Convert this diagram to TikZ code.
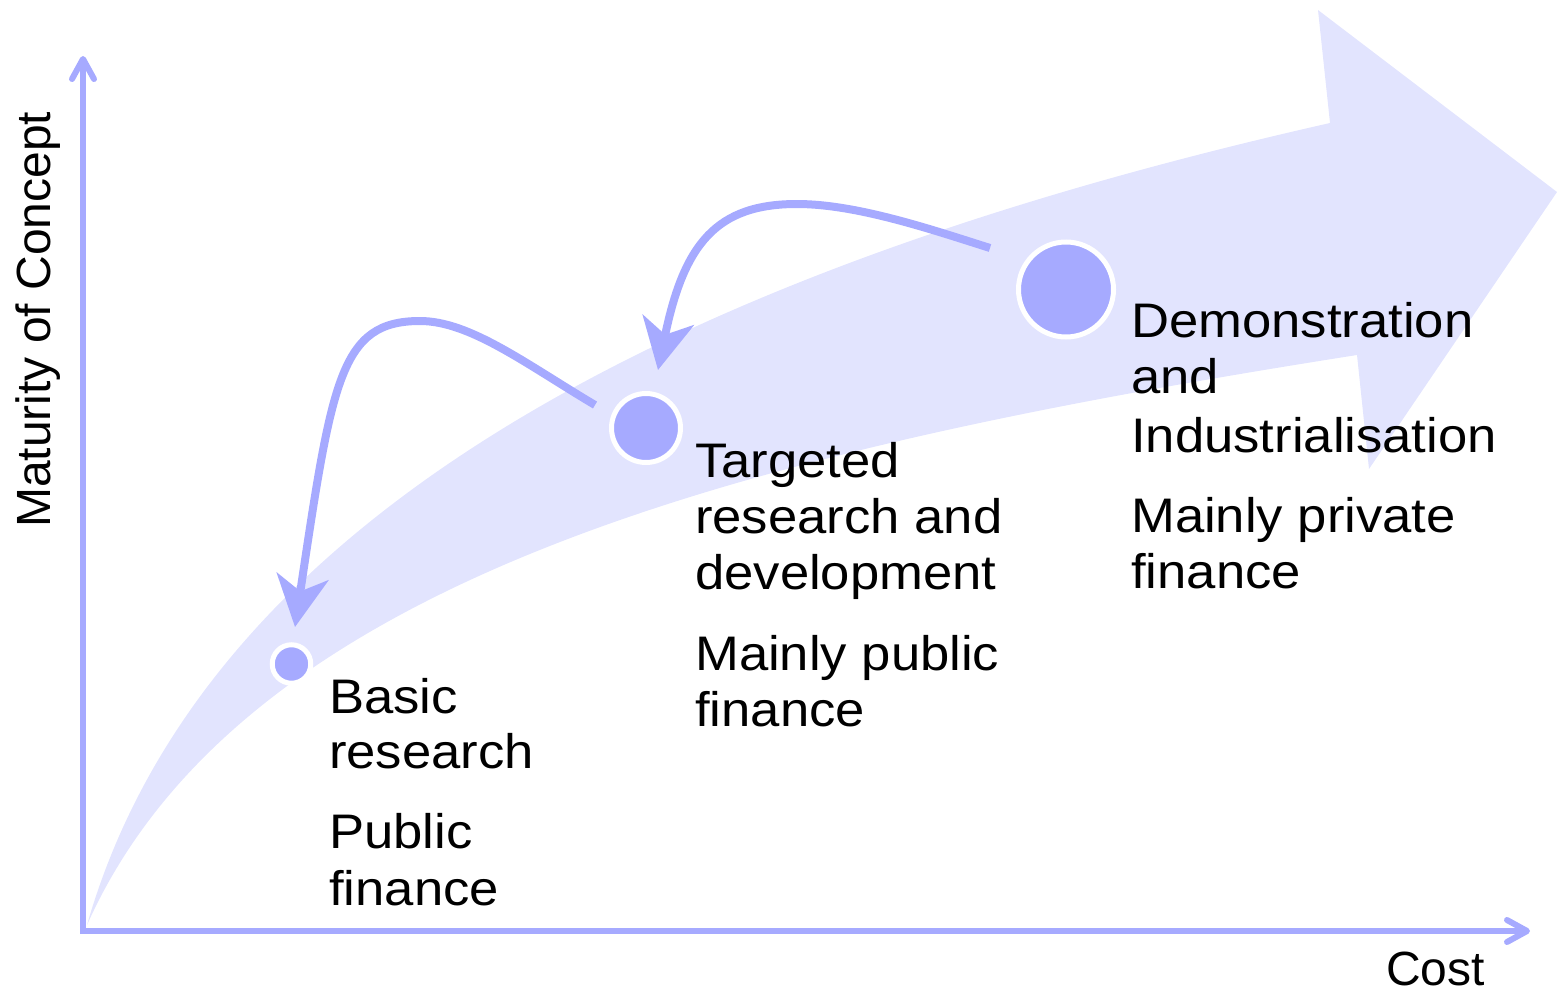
\documentclass[tikz,border=0pt]{standalone}
\usepackage{fontspec}
\setmainfont{Liberation Sans}[FakeStretch=1.085]
\newfontfamily\axisfont{Liberation Sans}
\usetikzlibrary{arrows.meta}

\definecolor{accent}{RGB}{166,170,255}
\definecolor{bandfill}{RGB}{226,228,254}

\tikzset{
  axisline/.style={draw=accent, line width=6pt,
    -{Straight Barb[length=20pt,width=22pt,round]}},
  feedback/.style={draw=accent, line width=8pt,
    -{Stealth[length=51pt,width=52pt,inset=15pt]}},
  stage/.style={circle, fill=accent, draw=white, line width=5pt, inner sep=0pt},
  desc/.style={anchor=base west, inner sep=0pt,
    font=\fontsize{48.5}{56}\selectfont},
  axislabel/.style={anchor=base west, inner sep=0pt,
    font=\axisfont\fontsize{48}{56}\selectfont},
}

\begin{document}
\begin{tikzpicture}[x=1pt, y=-1pt]
\useasboundingbox (0,0) rectangle (1558,993);

% broad progression arrow
\fill[bandfill] (87,925) .. controls (208,502) and (706,264) .. (1330,123)
  -- (1318,10) -- (1557,192) -- (1369,469) -- (1357,355)
  .. controls (773,447) and (246,569) .. (87,925) -- cycle;

% axes
\coordinate (ybottom) at (83,934);
\coordinate (ytop) at (83,56);
\coordinate (xstart) at (80,931);
\coordinate (xend) at (1530,931);
\draw[axisline] (ybottom) -- (ytop);
\draw[axisline] (xstart) -- (xend);

\node[axislabel, rotate=90] (ylab) at (50,528) {Maturity of Concept};
\node[axislabel] (xlab) at (1386,985) {Cost};

% stages
\node[stage, minimum size=38.5pt] (basic) at (291.5,664) {};
\node[stage, minimum size=69pt] (targeted) at (646,428) {};
\node[stage, minimum size=95pt] (demo) at (1066,289.5) {};

% feedback loops
\coordinate (fb1start) at (990,248);
\coordinate (fb1top) at (797,204);
\coordinate (fb1tip) at (658,370);
\draw[feedback] (fb1start) .. controls (933,230) and (857,204) .. (fb1top)
  .. controls (717,204) and (684,243) .. (fb1tip);

\coordinate (fb2start) at (595,405);
\coordinate (fb2top) at (420,321);
\coordinate (fb2tip) at (295,627);
\draw[feedback] (fb2start) .. controls (526,364) and (470,321) .. (fb2top)
  .. controls (340,321) and (332,380) .. (fb2tip);

% stage descriptions
\node[desc] (b1) at (329,713) {Basic};
\node[desc] (b2) at (329,768) {research};
\node[desc] (b3) at (329,848) {Public};
\node[desc] (b4) at (329,905) {finance};

\node[desc] (t1) at (695,477) {Targeted};
\node[desc] (t2) at (695,533) {research and};
\node[desc] (t3) at (695,589) {development};
\node[desc] (t4) at (695,670) {Mainly public};
\node[desc] (t5) at (695,726) {finance};

\node[desc] (d1) at (1131,337) {Demonstration};
\node[desc] (d2) at (1131,393) {and};
\node[desc] (d3) at (1131,452) {Industrialisation};
\node[desc] (d4) at (1131,532) {Mainly private};
\node[desc] (d5) at (1131,588) {finance};
\end{tikzpicture}
\end{document}
